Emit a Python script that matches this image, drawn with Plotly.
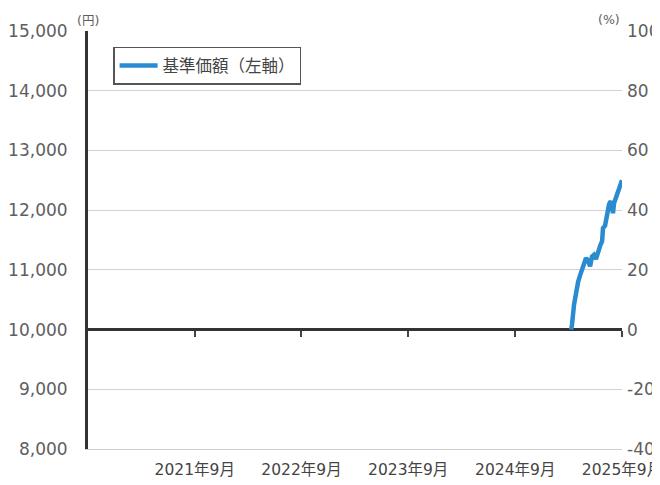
import plotly.graph_objects as go

# ---- data ----
dates = [
    "2025-04-09", "2025-04-12", "2025-04-19", "2025-04-26", "2025-05-03",
    "2025-05-09", "2025-05-16", "2025-05-23", "2025-05-30", "2025-06-06",
    "2025-06-13", "2025-06-19", "2025-06-26", "2025-07-03", "2025-07-10",
    "2025-07-17", "2025-07-24", "2025-07-27", "2025-08-03", "2025-08-10",
    "2025-08-17", "2025-08-23", "2025-08-27", "2025-08-30", "2025-09-03",
    "2025-09-09", "2025-09-16", "2025-09-23", "2025-09-30",
]
nav = [
    10000, 10080, 10420, 10650, 10800,
    10900, 11000, 11080, 11200, 11150,
    11060, 11220, 11250, 11180, 11330,
    11400, 11480, 11700, 11740, 11950,
    12100, 12150, 12000, 11950, 12120,
    12200, 12300, 12400, 12500,
]
x_tickvals = ["2021-09-30", "2022-09-30", "2023-09-30", "2024-09-30", "2025-09-30"]
x_ticktext = ["2021年9月", "2022年9月", "2023年9月", "2024年9月", "2025年9月"]
x_range = ["2020-09-30", "2025-09-30"]
left_ticks = [8000, 9000, 10000, 11000, 12000, 13000, 14000, 15000]
left_ticktext = ["8,000", "9,000", "10,000", "11,000", "12,000", "13,000", "14,000", "15,000"]
right_ticks = [-40, -20, 0, 20, 40, 60, 80, 100]
right_ticktext = ["-40", "-20", "0", "20", "40", "60", "80", "100"]
series_name = "基準価額（左軸）"

FONT = "DejaVu Sans, Noto Sans CJK JP, sans-serif"
GRAY = "#5e5e5e"

fig = go.Figure()
fig.add_trace(go.Scatter(
    x=dates, y=nav, mode="lines", name=series_name,
    line=dict(color="#2a8bd0", width=4.5),
))
# invisible helper trace for the tick-mark axis on the 0% line
fig.add_trace(go.Scatter(
    x=x_range, y=[0, 0], xaxis="x2", yaxis="y2", mode="lines",
    line=dict(color="rgba(0,0,0,0)"), showlegend=False, hoverinfo="skip",
))

fig.update_layout(
    width=660, height=485,
    margin=dict(l=80, r=46, t=23, b=44),
    paper_bgcolor="white", plot_bgcolor="white",
    font=dict(family=FONT, color=GRAY, size=16),
    showlegend=True,
    legend=dict(
        x=0.047, y=0.962, xanchor="left", yanchor="top",
        bgcolor="white", bordercolor="#555", borderwidth=1.5,
        font=dict(size=16.5, color="#444"),
        itemwidth=38, tracegroupgap=0,
    ),
    xaxis=dict(
        type="date", range=x_range, automargin=False,
        tickvals=x_tickvals, ticktext=x_ticktext,
        tickfont=dict(size=15.5, color="#444"),
        ticklabeloverflow="allow",
        showgrid=False, zeroline=False,
        showline=True, linecolor="#cfcfcf", linewidth=1,
        ticks="", ticklabelstandoff=6,
    ),
    xaxis2=dict(
        type="date", range=x_range, overlaying="x", automargin=False,
        anchor="free", position=2 / 7,
        tickvals=x_tickvals, showticklabels=False,
        ticks="outside", ticklen=6, tickwidth=2, tickcolor="#444",
        showgrid=False, zeroline=False, showline=False,
    ),
    yaxis=dict(
        range=[8000, 15000], tickvals=left_ticks, ticktext=left_ticktext,
        automargin=False, ticklabeloverflow="allow",
        tickfont=dict(size=17, color=GRAY),
        showgrid=True, gridcolor="#d2d2d2", gridwidth=1,
        zeroline=False,
        showline=True, linecolor="#333", linewidth=3,
        ticks="", ticklabelstandoff=14,
    ),
    yaxis2=dict(
        range=[-40, 100], tickvals=right_ticks, ticktext=right_ticktext,
        overlaying="y", side="right", anchor="x", automargin=False,
        ticklabeloverflow="allow",
        tickfont=dict(size=17, color=GRAY),
        showgrid=False,
        zeroline=True, zerolinecolor="#333", zerolinewidth=2.5,
        showline=False, ticks="", ticklabelstandoff=4,
    ),
    annotations=[
        dict(text="(円)", xref="paper", yref="paper", x=0.0, y=1.0,
             xanchor="center", yanchor="bottom", yshift=1, showarrow=False,
             font=dict(size=12.5, color=GRAY)),
        dict(text="(%)", xref="paper", yref="paper", x=0.975, y=1.0,
             xanchor="center", yanchor="bottom", yshift=2, showarrow=False,
             font=dict(size=12.5, color=GRAY)),
    ],
)

fig.write_html("out.html")
